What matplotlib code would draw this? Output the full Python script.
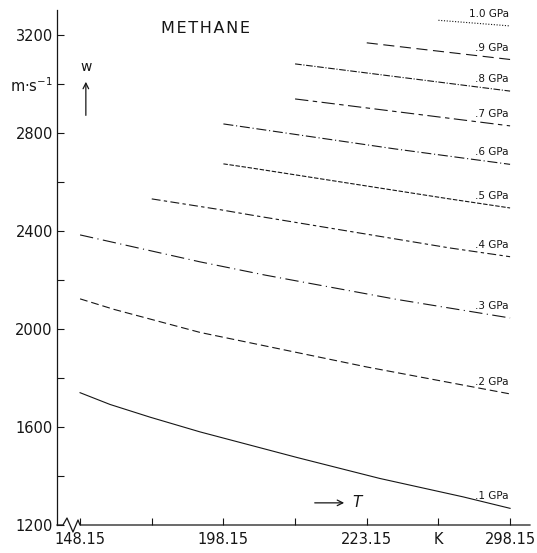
"""plot.py - speed of sound w in methane vs temperature T, isobars 0.1 ... 1.0 GPa."""
import matplotlib
matplotlib.use("Agg")
import matplotlib.pyplot as plt
from matplotlib.ticker import FixedLocator, FixedFormatter

# isobars: temperature (K) and speed of sound (m/s)
p01_T = [148.15, 158.6, 172.6, 190.0, 224.0, 252.7, 281.7, 298.15]
p01_w = [1740, 1692, 1640, 1580, 1475, 1390, 1315, 1268]
p02_T = [148.15, 160.0, 190.0, 248.15, 298.15]
p02_w = [2123, 2080, 1986, 1845, 1735]
p03_T = [148.15, 190.0, 212.7, 258.0, 298.15]
p03_w = [2384, 2274, 2220, 2122, 2045]
p04_T = [173.15, 196.0, 207.4, 277.0, 298.15]
p04_w = [2531, 2489, 2466, 2331, 2295]
p05_T = [198.15, 207.4, 277.0, 298.15]
p05_w = [2674, 2658, 2531, 2494]
p06_T = [198.15, 258.0, 298.15]
p06_w = [2837, 2735, 2672]
p07_T = [223.15, 298.15]
p07_w = [2939, 2829]
p08_T = [223.15, 298.15]
p08_w = [3082, 2971]
p09_T = [248.15, 298.15]
p09_w = [3168, 3100]
p10_T = [273.15, 298.15]
p10_w = [3260, 3237]

labels = [".1 GPa", ".2 GPa", ".3 GPa", ".4 GPa", ".5 GPa",
          ".6 GPa", ".7 GPa", ".8 GPa", ".9 GPa", "1.0 GPa"]

x_ticks = [148.15, 173.15, 198.15, 223.15, 248.15, 273.15, 298.15]
x_tick_labels = ["148.15", "", "198.15", "", "223.15", "K", "298.15"]
y_ticks = [1200, 1400, 1600, 1800, 2000, 2200, 2400, 2600, 2800, 3000, 3200]
y_tick_labels = ["1200", "", "1600", "", "2000", "", "2400", "", "2800",
                 "m\u00b7s$^{-1}$", "3200"]

# line style of each isobar, same order as labels
styles = ["-", (0, (7, 3.5)), (0, (12, 4, 1, 4)), (0, (8, 3, 3, 3)),
          (0, (4, 1.5)), (0, (9, 2.5, 1, 2.5)), (0, (12, 4, 4, 4)),
          (0, (6, 1.5, 1, 1.5)), (0, (10, 5)), (0, (1, 1.5))]

INK = "#161616"

fig = plt.figure(figsize=(5.37, 5.53), dpi=100)
ax = fig.add_axes([57 / 537, 28 / 553, 473 / 537, 515 / 553])
ax.set_xlim(140.1, 305.1)
ax.set_ylim(1200, 3302)

series = [(p01_T, p01_w), (p02_T, p02_w), (p03_T, p03_w), (p04_T, p04_w),
          (p05_T, p05_w), (p06_T, p06_w), (p07_T, p07_w), (p08_T, p08_w),
          (p09_T, p09_w), (p10_T, p10_w)]
for (T, w), ls, lab in zip(series, styles, labels):
    ax.plot(T, w, color=INK, lw=0.8, linestyle=ls)
    # pressure label sits just above the line end
    ax.annotate(lab, xy=(T[-1], w[-1]), xytext=(-1, 5),
                textcoords="offset points", ha="right", va="bottom",
                fontsize=7.5, color=INK)

# axes: only left spine, bottom drawn by hand with the break zigzag
for side in ("top", "right", "bottom"):
    ax.spines[side].set_visible(False)
ax.spines["left"].set_linewidth(0.9)
ax.spines["left"].set_color(INK)
bx = [0, 0.0127, 0.0211, 0.0338, 0.0444, 0.0486, 1.0]
by = [0, 0, 0.0136, -0.0136, 0.0097, 0, 0]
ax.plot(bx, by, transform=ax.transAxes, color=INK, lw=0.9, clip_on=False)

ax.xaxis.set_major_locator(FixedLocator(x_ticks))
ax.xaxis.set_major_formatter(FixedFormatter(x_tick_labels))
ax.yaxis.set_major_locator(FixedLocator(y_ticks))
ax.yaxis.set_major_formatter(FixedFormatter(y_tick_labels))
ax.tick_params(axis="both", direction="in", length=5, width=0.8,
               colors=INK, labelsize=10.5)
ax.tick_params(axis="x", pad=5)
ax.tick_params(axis="y", pad=3)

# title and axis arrows
ax.text(0.313, 0.965, "\u200a".join("METHANE"), transform=ax.transAxes,
        ha="center", va="center", fontsize=11.5, color=INK)
ax.text(0.061, 0.889, "w", transform=ax.transAxes, ha="center",
        va="center", fontsize=10, color=INK)
ax.annotate("", xy=(0.061, 0.866), xytext=(0.061, 0.790),
            xycoords="axes fraction",
            arrowprops=dict(arrowstyle="->", color=INK, lw=0.9))
ax.annotate("", xy=(0.613, 0.043), xytext=(0.539, 0.043),
            xycoords="axes fraction",
            arrowprops=dict(arrowstyle="->", color=INK, lw=0.9))
ax.text(0.634, 0.043, "T", transform=ax.transAxes, ha="center",
        va="center", fontsize=11, style="italic", color=INK)

fig.savefig("out.png", dpi=100, facecolor="white")
